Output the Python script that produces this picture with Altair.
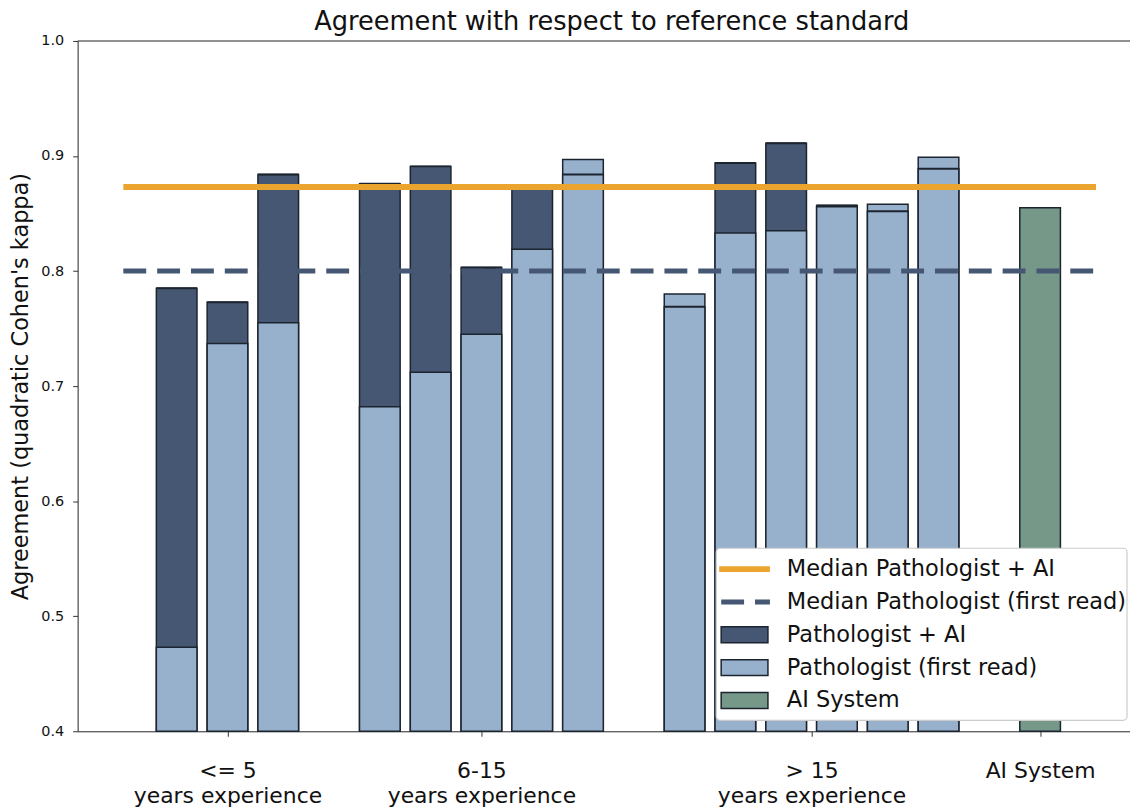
import altair as alt
import pandas as pd

# ---- data ----
slots = [0, 1, 2, 4, 5, 6, 7, 8, 10, 11, 12, 13, 14, 15]
first_read = [0.473, 0.737, 0.755, 0.682, 0.712, 0.745, 0.819, 0.897,
              0.780, 0.833, 0.835, 0.856, 0.858, 0.899]
with_ai = [0.785, 0.773, 0.884, 0.876, 0.891, 0.803, 0.873, 0.884,
           0.769, 0.894, 0.911, 0.857, 0.852, 0.889]
ai_slot = [17]
ai_value = [0.855]
median_names = ["Median Pathologist + AI", "Median Pathologist (first read)"]
median_values = [0.873, 0.800]
median_start = [-1.05, -1.05]
median_end = [18.1, 18.1]
tick_positions = [1, 6, 12.5, 17]
tick_lines = [["<= 5", "years experience"], ["6-15", "years experience"],
              ["> 15", "years experience"], ["AI System"]]
legend_labels = ["Median Pathologist + AI", "Median Pathologist (first read)",
                 "Pathologist + AI", "Pathologist (first read)", "AI System"]

DARK = "#455772"
LIGHT = "#97b1cc"
GREEN = "#759889"
ORANGE = "#eba52e"
EDGE = "#1c2430"
FONT = "DejaVu Sans"

W, H = 1058, 694
X_DOM = [-1.95, 18.77]
Y_DOM = [0.4, 1.0]
HALF = 0.4

bars = pd.DataFrame({"slot": slots, "first": first_read, "ai": with_ai})
bars["x0"] = bars["slot"] - HALF
bars["x1"] = bars["slot"] + HALF
bars["base"] = Y_DOM[0]
ai_df = pd.DataFrame({"slot": ai_slot, "v": ai_value})
ai_df["x0"] = ai_df["slot"] - HALF
ai_df["x1"] = ai_df["slot"] + HALF
ai_df["base"] = Y_DOM[0]
med = pd.DataFrame({"name": median_names, "v": median_values,
                    "x0": median_start, "x1": median_end})

label_expr = " : ".join(
    f"datum.value == {p} ? {l!r}" for p, l in zip(tick_positions, tick_lines)
) + " : ''"

xscale = alt.Scale(domain=X_DOM, nice=False, zero=False)
yscale = alt.Scale(domain=Y_DOM, nice=False, zero=False)

x_axis = alt.Axis(values=tick_positions, labelExpr=label_expr, title=None,
                  grid=False, labelFontSize=22, labelFont=FONT, labelColor="#111",
                  labelPadding=24, labelLineHeight=26, labelLimit=0, tickSize=5,
                  labelOverlap=False,
                  tickColor="#333", domainColor="#333", labelBaseline="top")
y_axis = alt.Axis(values=[0.4, 0.5, 0.6, 0.7, 0.8, 0.9, 1.0], format=".1f",
                  title="Agreement (quadratic Cohen's kappa)", grid=False,
                  labelFontSize=14.5, labelFont=FONT, labelColor="#111",
                  labelPadding=9,
                  titleFontSize=22.5, titleFont=FONT, titleFontWeight="normal",
                  titleColor="#111", titlePadding=8, tickSize=5,
                  tickColor="#333", domainColor="#333")

base_bars = alt.Chart(bars)

dark = base_bars.mark_bar(color=DARK, stroke=EDGE, strokeWidth=1.5).encode(
    x=alt.X("x0:Q", scale=xscale, axis=x_axis), x2="x1:Q",
    y=alt.Y("base:Q", scale=yscale, axis=y_axis), y2="ai:Q")
light = base_bars.mark_bar(color=LIGHT, stroke=EDGE, strokeWidth=1.5).encode(
    x=alt.X("x0:Q", scale=xscale), x2="x1:Q",
    y=alt.Y("base:Q", scale=yscale), y2="first:Q")
ai_line = base_bars.mark_rule(color=EDGE, strokeWidth=2).encode(
    x=alt.X("x0:Q", scale=xscale), x2="x1:Q",
    y=alt.Y("ai:Q", scale=yscale))
green = alt.Chart(ai_df).mark_bar(color=GREEN, stroke=EDGE, strokeWidth=1.5).encode(
    x=alt.X("x0:Q", scale=xscale), x2="x1:Q",
    y=alt.Y("base:Q", scale=yscale), y2="v:Q")

orange_line = alt.Chart(med.iloc[[0]]).mark_rule(color=ORANGE, strokeWidth=6).encode(
    x=alt.X("x0:Q", scale=xscale), x2="x1:Q", y=alt.Y("v:Q", scale=yscale))
dash_line = alt.Chart(med.iloc[[1]]).mark_rule(
    color=DARK, strokeWidth=5, strokeDash=[23, 11]).encode(
    x=alt.X("x0:Q", scale=xscale), x2="x1:Q", y=alt.Y("v:Q", scale=yscale))

top_spine = alt.Chart(med.iloc[[0]]).mark_rule(color="#333", strokeWidth=1).encode(
    x=alt.value(0), x2=alt.value(W), y=alt.value(0))

# ---- manual legend (box + swatches + labels) ----
LX0, LX1, LY0, LY1 = 642, 1055, 510, 683
ROW0, ROWSTEP = 531, 33
SX0, SX1 = 647, 694
TX = 713
one = pd.DataFrame({"k": [0]})
legend_layers = [
    alt.Chart(one).mark_rect(fill="white", stroke="#cccccc", strokeWidth=1.2,
                             cornerRadius=4).encode(
        x=alt.value(LX0), x2=alt.value(LX1), y=alt.value(LY0), y2=alt.value(LY1)),
    alt.Chart(one).mark_rule(color=ORANGE, strokeWidth=6).encode(
        x=alt.value(SX0 - 2), x2=alt.value(SX1 + 2), y=alt.value(ROW0)),
    alt.Chart(one).mark_rule(color=DARK, strokeWidth=5, strokeDash=[23, 11]).encode(
        x=alt.value(SX0), x2=alt.value(SX1 + 2), y=alt.value(ROW0 + ROWSTEP)),
]
for i, col in zip([2, 3, 4], [DARK, LIGHT, GREEN]):
    yc = ROW0 + i * ROWSTEP
    legend_layers.append(
        alt.Chart(one).mark_rect(fill=col, stroke=EDGE, strokeWidth=1.5).encode(
            x=alt.value(SX0), x2=alt.value(SX1), y=alt.value(yc - 8), y2=alt.value(yc + 8)))
for i, lab in enumerate(legend_labels):
    legend_layers.append(
        alt.Chart(one).mark_text(text=lab, align="left", baseline="middle",
                                 font=FONT, fontSize=22.6, color="#111").encode(
            x=alt.value(TX), y=alt.value(ROW0 + i * ROWSTEP)))

chart = alt.layer(dark, light, ai_line, green, orange_line, dash_line, top_spine,
                  *legend_layers).properties(
    width=W, height=H,
    title=alt.TitleParams("Agreement with respect to reference standard",
                          font=FONT, fontSize=25.8, fontWeight="normal",
                          color="#111", anchor="middle", offset=-3, dx=8),
    autosize=alt.AutoSizeParams(type="none"),
    padding={"left": 70, "top": 31, "right": 0, "bottom": 76},
).configure_view(stroke=None).configure(background="white")

chart.save("out.html", embed_options={"renderer": "svg", "actions": False})
